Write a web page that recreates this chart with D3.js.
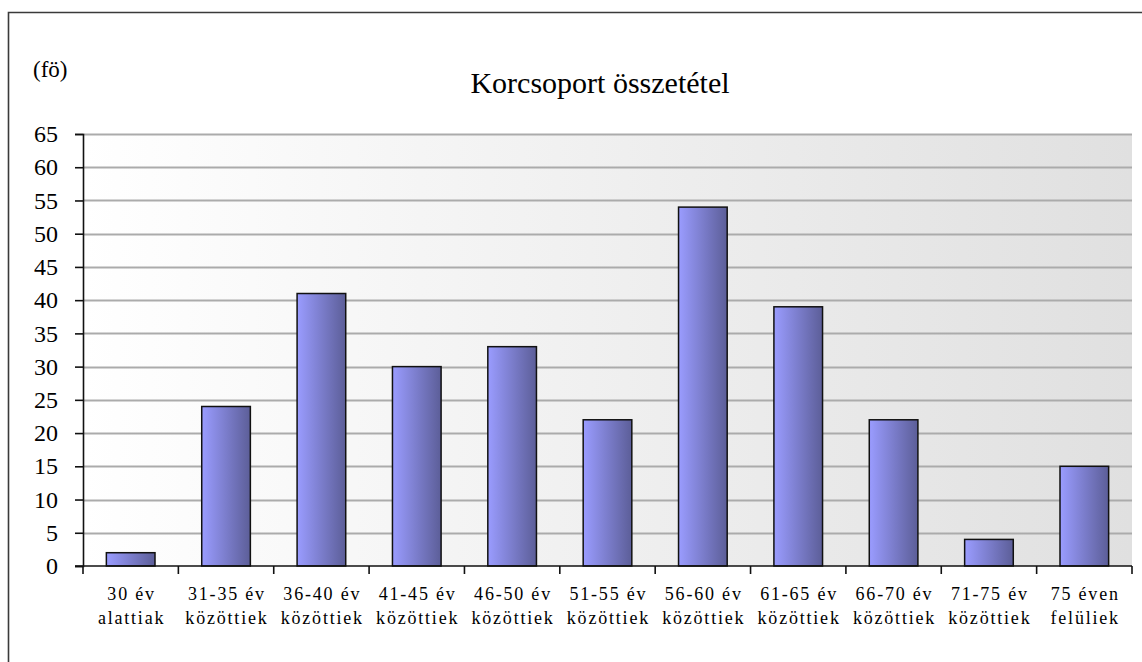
<!DOCTYPE html>
<html>
<head>
<meta charset="utf-8">
<script src="https://cdn.jsdelivr.net/npm/d3@7"></script>
</head>
<body style="margin:0">
<div id="chart"></div>
<script>
// Chart data
// ================================
var categories = ["30 év|alattiak", "31-35 év|közöttiek", "36-40 év|közöttiek", "41-45 év|közöttiek",
  "46-50 év|közöttiek", "51-55 év|közöttiek", "56-60 év|közöttiek", "61-65 év|közöttiek",
  "66-70 év|közöttiek", "71-75 év|közöttiek", "75 éven|felüliek"];
var values = [2, 24, 41, 30, 33, 22, 54, 39, 22, 4, 15];
var yTicks = [0, 5, 10, 15, 20, 25, 30, 35, 40, 45, 50, 55, 60, 65];

var svgWidth = 1142;
var svgHeight = 662;

var margin = { top: 134, right: 10, bottom: 96, left: 83 };
var width = 1132 - margin.left;
var height = 566 - margin.top;

var svg = d3.select("#chart")
  .append("svg")
  .attr("width", svgWidth)
  .attr("height", svgHeight);

var defs = svg.append("defs");

// plot background: white -> light grey
var bg = defs.append("linearGradient").attr("id", "bgGrad")
  .attr("x1", "0%").attr("x2", "100%").attr("y1", "0%").attr("y2", "0%");
bg.append("stop").attr("offset", "0%").attr("stop-color", "#ffffff");
bg.append("stop").attr("offset", "100%").attr("stop-color", "#e0e0e0");

// bar fill: light violet -> dark violet
var bar = defs.append("linearGradient").attr("id", "barGrad")
  .attr("x1", "0%").attr("x2", "100%").attr("y1", "0%").attr("y2", "0%");
bar.append("stop").attr("offset", "0%").attr("stop-color", "#9a9cff");
bar.append("stop").attr("offset", "100%").attr("stop-color", "#5c5e98");

// outer frame (top and left edges visible)
svg.append("path")
  .attr("d", "M8.5,670 L8.5,12.5 L1150,12.5")
  .attr("fill", "none")
  .attr("stroke", "#3a3a3a")
  .attr("stroke-width", 1.6);

var chartGroup = svg.append("g")
  .attr("transform", `translate(${margin.left}, ${margin.top})`);

// scales
var xScale = d3.scaleBand()
  .domain(categories)
  .range([0, width])
  .paddingInner(0.49)
  .paddingOuter(0.245);

var xOuter = d3.scaleBand()
  .domain(categories)
  .range([0, width]);

var yScale = d3.scaleLinear()
  .domain([0, 65])
  .range([height, 0]);

chartGroup.append("rect")
  .attr("width", width)
  .attr("height", height)
  .attr("fill", "url(#bgGrad)");

// gridlines
chartGroup.selectAll(".grid")
  .data(yTicks.filter(d => d > 0))
  .enter()
  .append("line")
  .attr("x1", 0)
  .attr("x2", width)
  .attr("y1", d => Math.round(yScale(d)) + 0.5)
  .attr("y2", d => Math.round(yScale(d)) + 0.5)
  .attr("stroke", "#ababab")
  .attr("stroke-width", 2);

// bars
chartGroup.selectAll(".bar")
  .data(values)
  .enter()
  .append("rect")
  .attr("x", (d, i) => xScale(categories[i]))
  .attr("y", d => yScale(d))
  .attr("width", xScale.bandwidth())
  .attr("height", d => height - yScale(d))
  .attr("fill", "url(#barGrad)")
  .attr("stroke", "#111")
  .attr("stroke-width", 1.5);

// y axis
var leftAxis = d3.axisLeft(yScale).tickValues(yTicks).tickSize(8).tickPadding(17);
var yAxisG = chartGroup.append("g").call(leftAxis);
yAxisG.attr("font-family", null).attr("font-size", null);
yAxisG.select(".domain").attr("stroke", "#111").attr("stroke-width", 1.6);
yAxisG.selectAll(".tick line").attr("stroke", "#111").attr("stroke-width", 1.6);
yAxisG.selectAll(".tick text")
  .style("font-family", "Liberation Serif")
  .style("font-size", "24px")
  .attr("fill", "#000");

// x axis (ticks at category boundaries)
var boundaries = categories.map(c => xOuter(c)).concat([width]);
chartGroup.append("line")
  .attr("x1", -8).attr("x2", width)
  .attr("y1", height).attr("y2", height)
  .attr("stroke", "#111").attr("stroke-width", 1.6);
chartGroup.selectAll(".xtick")
  .data(boundaries)
  .enter()
  .append("line")
  .attr("x1", d => d).attr("x2", d => d)
  .attr("y1", height).attr("y2", height + 8)
  .attr("stroke", "#111").attr("stroke-width", 1.6);

var labelX = d => xOuter(d) + xOuter.bandwidth() / 2 + 0.9;
var xLabels = chartGroup.selectAll(".xlabel")
  .data(categories)
  .enter()
  .append("text")
  .attr("text-anchor", "middle")
  .attr("x", labelX)
  .attr("y", height + 34)
  .style("font-family", "Liberation Serif")
  .style("font-size", "18px")
  .style("letter-spacing", "1.8px");
xLabels.append("tspan")
  .attr("x", labelX)
  .text(d => d.split("|")[0]);
xLabels.append("tspan")
  .attr("x", labelX)
  .attr("dy", 24)
  .text(d => d.split("|")[1]);

// title
svg.append("text")
  .attr("x", 600)
  .attr("y", 93)
  .attr("text-anchor", "middle")
  .style("font-family", "Liberation Serif")
  .style("font-size", "30px")
  .text("Korcsoport összetétel");

// unit label
svg.append("text")
  .attr("x", 33)
  .attr("y", 77)
  .style("font-family", "Liberation Serif")
  .style("font-size", "23px")
  .text("(fö)");
</script>
</body>
</html>
